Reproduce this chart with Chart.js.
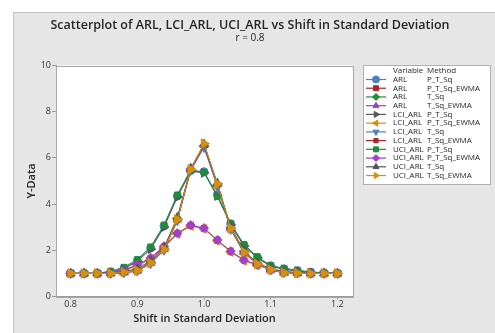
<!DOCTYPE html>
<html>
<head>
<meta charset="utf-8">
<script src="https://cdn.jsdelivr.net/npm/chart.js@4/dist/chart.umd.min.js"></script>
<style>
    html, body { margin: 0; padding: 0; background: #ffffff; }
    #wrap { width: 495px; height: 333px; }
</style>
</head>
<body>
<div id="wrap"><canvas id="scatterCanvas" width="495" height="333"></canvas></div>
<script>
// shift values (x)
const shifts = [0.80, 0.82, 0.84, 0.86, 0.88, 0.90, 0.92, 0.94, 0.96, 0.98, 1.00, 1.02, 1.04, 1.06, 1.08, 1.10, 1.12, 1.14, 1.16, 1.18, 1.20];

const variables = ['ARL', 'ARL', 'ARL', 'ARL', 'LCI_ARL', 'LCI_ARL', 'LCI_ARL', 'LCI_ARL', 'UCI_ARL', 'UCI_ARL', 'UCI_ARL', 'UCI_ARL'];
const methods = ['P_T_Sq', 'P_T_Sq_EWMA', 'T_Sq', 'T_Sq_EWMA', 'P_T_Sq', 'P_T_Sq_EWMA', 'T_Sq', 'T_Sq_EWMA', 'P_T_Sq', 'P_T_Sq_EWMA', 'T_Sq', 'T_Sq_EWMA'];

// series values
const arlPTSq      = [1.00, 1.00, 1.00, 1.05, 1.22, 1.55, 2.10, 3.05, 4.35, 5.45, 5.40, 4.40, 3.15, 2.22, 1.70, 1.33, 1.20, 1.12, 1.05, 1.02, 1.00];
const arlPTSqEwma  = [1.00, 1.00, 1.00, 1.04, 1.13, 1.35, 1.65, 2.15, 2.72, 3.07, 2.95, 2.43, 1.95, 1.57, 1.37, 1.19, 1.07, 1.03, 1.00, 1.00, 1.00];
const arlTSq       = [1.00, 1.00, 1.00, 1.00, 1.05, 1.15, 1.50, 2.08, 3.38, 5.50, 6.50, 4.80, 2.98, 1.95, 1.42, 1.18, 1.05, 1.02, 1.00, 1.00, 1.00];
const arlTSqEwma   = [1.00, 1.00, 1.00, 1.00, 1.04, 1.12, 1.46, 2.05, 3.33, 5.50, 6.60, 4.88, 2.95, 1.92, 1.40, 1.16, 1.03, 1.01, 1.00, 1.00, 1.00];
const lciPTSq      = [1.00, 1.00, 1.00, 1.04, 1.20, 1.52, 2.05, 3.00, 4.30, 5.42, 5.35, 4.35, 3.10, 2.18, 1.67, 1.30, 1.18, 1.10, 1.04, 1.01, 1.00];
const lciPTSqEwma  = [1.00, 1.00, 1.00, 1.03, 1.11, 1.32, 1.62, 2.12, 2.70, 3.05, 2.93, 2.41, 1.93, 1.55, 1.35, 1.17, 1.06, 1.02, 1.00, 1.00, 1.00];
const lciTSq       = [1.00, 1.00, 1.00, 1.00, 1.03, 1.10, 1.42, 2.00, 3.28, 5.45, 6.45, 4.75, 2.90, 1.88, 1.38, 1.14, 1.03, 1.01, 1.00, 1.00, 1.00];
const lciTSqEwma   = [1.00, 1.00, 1.00, 1.00, 1.03, 1.10, 1.43, 2.02, 3.30, 5.48, 6.55, 4.85, 2.93, 1.90, 1.39, 1.15, 1.02, 1.01, 1.00, 1.00, 1.00];
const uciPTSq      = [1.00, 1.00, 1.00, 1.10, 1.27, 1.60, 2.15, 3.10, 4.40, 5.48, 5.38, 4.33, 3.17, 2.25, 1.72, 1.34, 1.22, 1.14, 1.06, 1.03, 1.00];
const uciPTSqEwma  = [1.00, 1.00, 1.00, 1.05, 1.15, 1.38, 1.68, 2.18, 2.74, 3.09, 2.96, 2.45, 1.96, 1.58, 1.38, 1.20, 1.08, 1.03, 1.00, 1.00, 1.00];
const uciTSq       = [1.00, 1.00, 1.00, 1.02, 1.08, 1.20, 1.55, 2.12, 3.42, 5.55, 6.58, 4.90, 3.02, 1.98, 1.45, 1.20, 1.07, 1.03, 1.01, 1.00, 1.00];
const uciTSqEwma   = [1.00, 1.00, 1.00, 1.00, 1.05, 1.12, 1.45, 2.04, 3.33, 5.50, 6.62, 4.88, 2.95, 1.92, 1.40, 1.16, 1.03, 1.01, 1.00, 1.00, 1.00];

const xTicks = [0.8, 0.9, 1.0, 1.1, 1.2];
const yTicks = [0, 2, 4, 6, 8, 10];

const blue = '#4f80c2';
const red = '#a12a2c';
const green = '#1f8c3b';
const purple = '#a23fcc';
const gray = '#555555';
const orange = '#d68f0f';

const seriesValues = [arlPTSq, arlPTSqEwma, arlTSq, arlTSqEwma, lciPTSq, lciPTSqEwma, lciTSq, lciTSqEwma, uciPTSq, uciPTSqEwma, uciTSq, uciTSqEwma];
const seriesColors = [blue, red, green, purple, gray, orange, blue, red, green, purple, gray, orange];
const seriesStyles = [
    { style: 'circle', rot: 0, r: 4 },
    { style: 'rect', rot: 0, r: 4 },
    { style: 'rectRot', rot: 0, r: 4.5 },
    { style: 'triangle', rot: 0, r: 5 },
    { style: 'triangle', rot: 90, r: 5 },
    { style: 'triangle', rot: -90, r: 5 },
    { style: 'triangle', rot: 180, r: 5 },
    { style: 'rect', rot: 0, r: 3 },
    { style: 'rect', rot: 0, r: 4 },
    { style: 'rectRot', rot: 0, r: 4.5 },
    { style: 'triangle', rot: 0, r: 5 },
    { style: 'triangle', rot: 90, r: 5.5 }
];

const fontFamily = '"Open Sans", "Noto Sans", sans-serif';

// later series sit on top, as in the original plot
const datasets = seriesValues.map((vals, i) => ({
    label: `${variables[i]} ${methods[i]}`,
    data: shifts.map((x, j) => ({ x: x, y: vals[j] })),
    order: seriesValues.length - i,
    showLine: true,
    borderColor: seriesColors[i],
    backgroundColor: seriesColors[i],
    borderWidth: 1,
    pointStyle: seriesStyles[i].style,
    pointRotation: seriesStyles[i].rot,
    pointRadius: seriesStyles[i].r,
    pointBorderWidth: 1,
    tension: 0
}));

// background, frame, titles and Minitab-style legend
const frameAndLegend = {
    id: 'frameAndLegend',
    beforeDraw(chart) {
        const ctx = chart.ctx;
        const area = chart.chartArea;
        ctx.save();
        ctx.fillStyle = '#ffffff';
        ctx.fillRect(0, 0, chart.width, chart.height);
        ctx.fillStyle = '#e6e6e6';
        ctx.fillRect(13, 12, chart.width - 13, chart.height - 12);
        ctx.strokeStyle = '#c2c2c2';
        ctx.lineWidth = 1;
        ctx.strokeRect(13.5, 12.5, chart.width, chart.height);
        ctx.fillStyle = '#ffffff';
        ctx.fillRect(area.left, area.top, area.right - area.left, area.bottom - area.top);
        ctx.restore();
    },
    afterDraw(chart) {
        const ctx = chart.ctx;
        const area = chart.chartArea;
        ctx.save();
        ctx.strokeStyle = '#a8a8a8';
        ctx.lineWidth = 1;
        ctx.strokeRect(Math.round(area.left) + 0.5, Math.round(area.top) + 0.5,
            Math.round(area.right - area.left), Math.round(area.bottom - area.top));

        // titles
        ctx.fillStyle = '#262626';
        ctx.textAlign = 'center';
        ctx.textBaseline = 'middle';
        ctx.font = `600 12.5px ${fontFamily}`;
        ctx.fillText('Scatterplot of ARL, LCI_ARL, UCI_ARL vs Shift in Standard Deviation', 250, 25);
        ctx.font = `10px ${fontFamily}`;
        ctx.fillText('r = 0.8', 250, 38);

        // legend box
        const bx = 363, by = 65, bw = 127, bh = 119;
        ctx.fillStyle = '#ffffff';
        ctx.fillRect(bx, by, bw, bh);
        ctx.strokeStyle = '#b0b0b0';
        ctx.strokeRect(bx + 0.5, by + 0.5, bw, bh);

        ctx.textAlign = 'left';
        ctx.fillStyle = '#262626';
        ctx.font = `8px ${fontFamily}`;
        ctx.fillText('Variable', 393, 71);
        ctx.fillText('Method', 427, 71);

        const rowStep = 8.73;
        chart.data.datasets.forEach((ds, i) => {
            const y = 79.5 + i * rowStep;
            ctx.strokeStyle = ds.borderColor;
            ctx.lineWidth = 1.2;
            ctx.beginPath();
            ctx.moveTo(366, y);
            ctx.lineTo(386, y);
            ctx.stroke();
            ctx.fillStyle = ds.backgroundColor;
            ctx.strokeStyle = ds.borderColor;
            ctx.lineWidth = 1;
            Chart.helpers.drawPoint(ctx, {
                pointStyle: ds.pointStyle,
                rotation: ds.pointRotation,
                radius: Math.min(ds.pointRadius, 3.5),
                borderWidth: 1
            }, 376, y);
            ctx.fillStyle = '#262626';
            ctx.fillText(variables[i], 393, y);
            ctx.fillText(methods[i], 427, y);
        });
        ctx.restore();
    }
};

const ctx = document.getElementById('scatterCanvas').getContext('2d');

new Chart(ctx, {
    type: 'scatter',
    data: { datasets: datasets },
    options: {
        responsive: false,
        animation: false,
        layout: {
            padding: { left: 13, right: 142, top: 65.5, bottom: 4 }
        },
        scales: {
            x: {
                type: 'linear',
                min: 0.778,
                max: 1.2235,
                afterBuildTicks: (scale) => {
                    scale.ticks = xTicks.map(v => ({ value: v }));
                },
                afterFit: (scale) => {
                    scale.height = 32.5;
                },
                ticks: {
                    color: '#333333',
                    font: { family: fontFamily, size: 9 },
                    padding: 0,
                    maxRotation: 0,
                    callback: (v) => v.toFixed(1)
                },
                grid: {
                    drawOnChartArea: false,
                    drawTicks: true,
                    tickLength: 3,
                    color: '#9a9a9a'
                },
                border: { color: '#9a9a9a' },
                title: {
                    display: true,
                    text: 'Shift in Standard Deviation',
                    color: '#262626',
                    font: { family: fontFamily, size: 11, weight: '600' },
                    padding: { top: 0, bottom: 4 }
                }
            },
            y: {
                type: 'linear',
                min: 0,
                max: 10,
                afterBuildTicks: (scale) => {
                    scale.ticks = yTicks.map(v => ({ value: v }));
                },
                afterFit: (scale) => {
                    scale.width = 43;
                },
                ticks: {
                    color: '#333333',
                    font: { family: fontFamily, size: 9 },
                    padding: 1
                },
                grid: {
                    drawOnChartArea: false,
                    drawTicks: true,
                    tickLength: 4,
                    color: '#9a9a9a'
                },
                border: { color: '#9a9a9a' },
                title: {
                    display: true,
                    text: 'Y-Data',
                    color: '#262626',
                    font: { family: fontFamily, size: 11, weight: '600' },
                    padding: { top: 12, bottom: 0 }
                }
            }
        },
        plugins: {
            legend: { display: false },
            tooltip: { enabled: false },
            title: { display: false }
        }
    },
    plugins: [frameAndLegend]
});
</script>
</body>
</html>
